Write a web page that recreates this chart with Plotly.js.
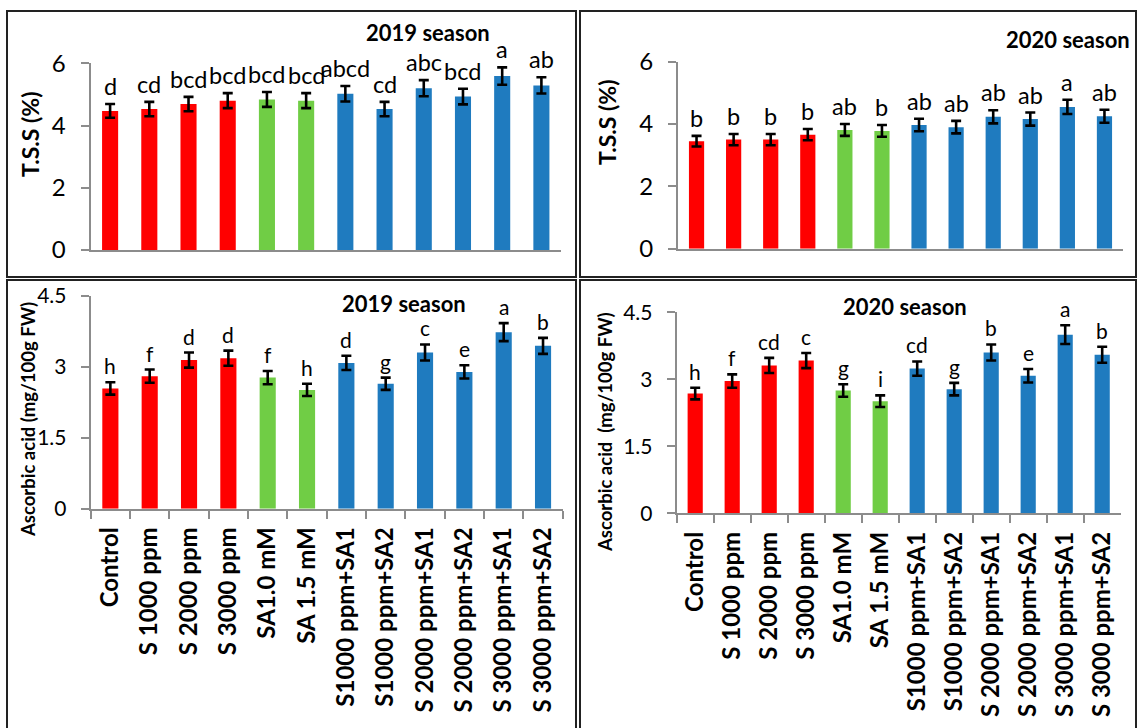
<!DOCTYPE html>
<html>
<head>
<meta charset="utf-8">
<script src="https://cdn.plot.ly/plotly-3.0.1.min.js"></script>
<style>
  html, body { margin: 0; padding: 0; background: #fff; }
  #chart { width: 1137px; height: 728px; }
</style>
</head>
<body>
<div id="chart"></div>
<script>
// Treatments, in plotting order
const categories = ["Control", "S 1000 ppm", "S 2000 ppm", "S 3000 ppm", "SA1.0 mM", "SA 1.5 mM",
  "S1000 ppm+SA1", "S1000 ppm+SA2", "S 2000 ppm+SA1", "S 2000 ppm+SA2", "S 3000 ppm+SA1", "S 3000 ppm+SA2"];

// Total soluble solids (%)
const tss2019 = [4.47, 4.53, 4.69, 4.80, 4.84, 4.80, 5.02, 4.53, 5.20, 4.93, 5.59, 5.29];
const tss2019Err = [0.22, 0.23, 0.23, 0.24, 0.24, 0.24, 0.25, 0.23, 0.26, 0.25, 0.28, 0.26];
const tss2019Letters = ["d", "cd", "bcd", "bcd", "bcd", "bcd", "abcd", "cd", "abc", "bcd", "a", "ab"];

const tss2020 = [3.45, 3.50, 3.50, 3.66, 3.81, 3.78, 3.97, 3.90, 4.23, 4.16, 4.55, 4.25];
const tss2020Err = [0.17, 0.18, 0.18, 0.18, 0.19, 0.19, 0.20, 0.20, 0.21, 0.21, 0.23, 0.21];
const tss2020Letters = ["b", "b", "b", "b", "ab", "b", "ab", "ab", "ab", "ab", "a", "ab"];

// Ascorbic acid (mg/100g FW)
const asc2019 = [2.54, 2.80, 3.14, 3.18, 2.77, 2.51, 3.08, 2.64, 3.30, 2.89, 3.73, 3.44];
const asc2019Err = [0.13, 0.14, 0.16, 0.16, 0.14, 0.13, 0.15, 0.13, 0.17, 0.14, 0.19, 0.17];
const asc2019Letters = ["h", "f", "d", "d", "f", "h", "d", "g", "c", "e", "a", "b"];

const asc2020 = [2.68, 2.96, 3.31, 3.42, 2.75, 2.51, 3.24, 2.78, 3.60, 3.08, 4.00, 3.55];
const asc2020Err = [0.13, 0.15, 0.17, 0.17, 0.14, 0.13, 0.16, 0.14, 0.18, 0.15, 0.21, 0.18];
const asc2020Letters = ["h", "f", "cd", "c", "g", "i", "cd", "g", "b", "e", "a", "b"];

// Bar colours: sulphur alone (red), salicylic acid alone (green), combinations (blue)
const RED = "#ff0000", GREEN = "#70cd45", BLUE = "#1f7bbf";
const barColors = [RED, RED, RED, RED, GREEN, GREEN, BLUE, BLUE, BLUE, BLUE, BLUE, BLUE];

const W = 1137, H = 728;
const px = x => x / W;
const py = y => 1 - y / H;
const FONT = "Lato, 'Open Sans', sans-serif";
const AXIS_GRAY = "#8c8c8c";

const panels = [
  { id: "", vals: tss2019, err: tss2019Err, letters: tss2019Letters,
    x: [90.5, 561], y: [250, 63.3], range: [0, 6], dtick: 2, tickSize: 24, letterSize: 23.5, showCats: false,
    season: "2019 season", seasonPos: [428, 33],
    ytitle: "T.S.S (%)", ytitlePos: [30, 134], ytitleSize: 23 },
  { id: "2", vals: tss2020, err: tss2020Err, letters: tss2020Letters,
    x: [678, 1123], y: [248.7, 61.7], range: [0, 6], dtick: 2, tickSize: 24, letterSize: 23.5, showCats: false,
    season: "2020 season", seasonPos: [1068, 39],
    ytitle: "T.S.S (%)", ytitlePos: [607, 122], ytitleSize: 23 },
  { id: "3", vals: asc2019, err: asc2019Err, letters: asc2019Letters,
    x: [90.7, 562.7], y: [508.7, 295.7], range: [0, 4.5], dtick: 1.5, tickSize: 21, letterSize: 21, showCats: true,
    season: "2019 season", seasonPos: [404, 303],
    ytitle: "Ascorbic acid (mg/100g FW)", ytitlePos: [28, 420], ytitleSize: 18.5 },
  { id: "4", vals: asc2020, err: asc2020Err, letters: asc2020Letters,
    x: [676.7, 1120.7], y: [513.3, 312.3], range: [0, 4.5], dtick: 1.5, tickSize: 21, letterSize: 21, showCats: true,
    season: "2020 season", seasonPos: [905, 306],
    ytitle: "Ascorbic acid  (mg/100g FW)", ytitlePos: [605, 432], ytitleSize: 18.5 }
];

const data = [];
const annotations = [];
const layout = {
  width: W, height: H,
  margin: { l: 0, r: 0, t: 0, b: 0 },
  paper_bgcolor: "#fff", plot_bgcolor: "#fff",
  showlegend: false,
  bargap: 0.59,
  font: { family: FONT, color: "#000" },
  shapes: []
};

panels.forEach(p => {
  const xa = "x" + p.id, ya = "y" + p.id;
  data.push({
    type: "bar", x: categories, y: p.vals, xaxis: xa, yaxis: ya,
    marker: { color: barColors, line: { width: 0 } },
    error_y: { type: "data", array: p.err, visible: true, color: "#000", thickness: 2.6, width: 5 },
    hoverinfo: "skip", cliponaxis: false
  });

  layout["xaxis" + p.id] = {
    domain: [px(p.x[0]), px(p.x[1])], anchor: ya,
    type: "category", showgrid: false, zeroline: false,
    showline: true, linecolor: AXIS_GRAY, linewidth: 2,
    ticks: p.showCats ? "outside" : "", tickson: "boundaries", ticklen: 8, tickwidth: 2, tickcolor: AXIS_GRAY,
    showticklabels: p.showCats, tickangle: -90, ticklabelstandoff: 7,
    tickfont: { family: FONT, size: 24, color: "#000", weight: "bold" },
    fixedrange: true
  };
  layout["yaxis" + p.id] = {
    domain: [py(p.y[0]), py(p.y[1])], anchor: xa,
    range: p.range, dtick: p.dtick, tick0: 0, showgrid: false, zeroline: false,
    showline: true, linecolor: AXIS_GRAY, linewidth: 2,
    ticks: "outside", ticklen: 8, tickwidth: 2, tickcolor: AXIS_GRAY,
    ticklabelstandoff: 10,
    tickfont: { family: FONT, size: p.tickSize, color: "#000" },
    fixedrange: true
  };

  // Significance letters above each error bar
  p.letters.forEach((t, i) => {
    annotations.push({
      xref: xa, yref: ya, x: categories[i], y: p.vals[i] + p.err[i],
      text: t, showarrow: false, yanchor: "bottom", yshift: 2,
      font: { family: FONT, size: p.letterSize, color: "#000" }
    });
  });

  // Season label
  annotations.push({
    xref: "paper", yref: "paper", x: px(p.seasonPos[0]), y: py(p.seasonPos[1]),
    xanchor: "center", yanchor: "middle", text: p.season, showarrow: false,
    font: { family: FONT, size: 22, color: "#000", weight: "bold" }
  });

  // Vertical axis title
  annotations.push({
    xref: "paper", yref: "paper", x: px(p.ytitlePos[0]), y: py(p.ytitlePos[1]),
    xanchor: "center", yanchor: "middle", text: p.ytitle, textangle: -90, showarrow: false,
    font: { family: FONT, size: p.ytitleSize, color: "#000", weight: "bold" }
  });
});

// Panel frames
const frames = [[7, 11, 576, 277], [580, 11, 1136, 277], [7, 280, 576, 745], [580, 280, 1136, 745]];
frames.forEach(f => {
  layout.shapes.push({
    type: "rect", xref: "paper", yref: "paper",
    x0: px(f[0]), x1: px(f[2]), y0: py(f[3]), y1: py(f[1]),
    line: { color: "#222", width: 2 }, fillcolor: "rgba(0,0,0,0)", layer: "below"
  });
});

layout.annotations = annotations;

Plotly.newPlot("chart", data, layout, { staticPlot: true, displayModeBar: false });
</script>
</body>
</html>
